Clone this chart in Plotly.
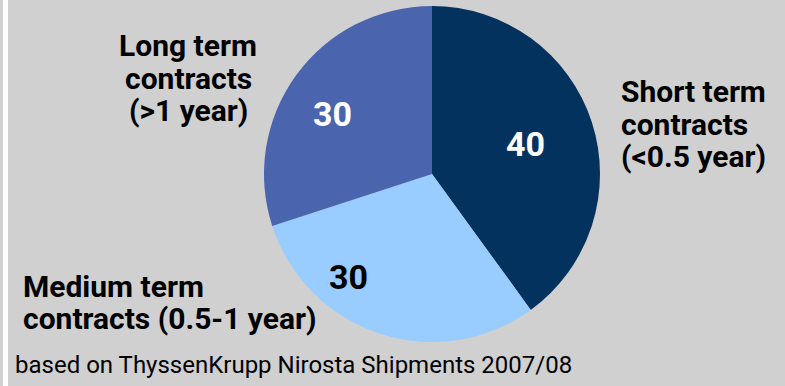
import math
import plotly.graph_objects as go

categories = ["Short term contracts (<0.5 year)", "Medium term contracts (0.5-1 year)", "Long term contracts (>1 year)"]
values = [40, 30, 30]
colors = ["#04325f", "#99ccff", "#4a64ad"]
text_colors = ["#ffffff", "#000000", "#ffffff"]

W, H = 785, 386
BG = "#d0d0d0"
FONT = "Roboto"
CX, CY, R = 432, 174, 168
# value label placement (angle offset from slice middle in degrees, radial fraction)
label_place = [(0, 0.585), (21, 0.79), (-5, 0.69)]

fig = go.Figure()
fig.add_trace(go.Pie(
    labels=categories, values=values, sort=False, direction="clockwise", rotation=0,
    marker=dict(colors=colors, line=dict(width=0)),
    textinfo="none",
    hoverinfo="label+value", showlegend=False,
    domain=dict(x=[(CX - R) / W, (CX + R) / W], y=[(H - CY - R) / H, (H - CY + R) / H]),
))

total = sum(values)
start = 0.0
for v, tc, (off, frac) in zip(values, text_colors, label_place):
    mid = start + v / total * 360 / 2 + off
    start += v / total * 360
    a = math.radians(mid)
    x = CX + frac * R * math.sin(a)
    y = CY - frac * R * math.cos(a)
    fig.add_annotation(text=str(v), x=x / W, y=1 - y / H, xref="paper", yref="paper",
                       xanchor="center", yanchor="middle", showarrow=False,
                       font=dict(family=FONT, size=34, color=tc, weight="bold"))

def line_ann(txt, x, y, anchor, size=30, weight="bold"):
    fig.add_annotation(text=txt, x=x / W, y=1 - y / H, xref="paper", yref="paper",
                       xanchor=anchor, yanchor="middle", showarrow=False,
                       font=dict(family=FONT, size=size, color="#000000", weight=weight))

for i, t in enumerate(["Long term", "contracts", "(>1 year)"]):
    line_ann(t, 188, 46 + 32 * i, "center")
for i, t in enumerate(["Short term", "contracts", "(<0.5 year)"]):
    line_ann(t, 619, 92 + 32 * i, "left")
for i, t in enumerate(["Medium term", "contracts (0.5-1 year)"]):
    line_ann(t, 21, 286 + 32 * i, "left")
line_ann("based on ThyssenKrupp Nirosta Shipments 2007/08", 13, 365, "left", size=24, weight="normal")

fig.add_shape(type="rect", xref="paper", yref="paper", x0=3 / W, x1=8 / W, y0=0, y1=1,
              fillcolor="#ffffff", line=dict(width=0), layer="below")

fig.update_layout(width=W, height=H, margin=dict(l=0, r=0, t=0, b=0),
                  paper_bgcolor=BG, plot_bgcolor=BG)
fig.write_html("out.html")
